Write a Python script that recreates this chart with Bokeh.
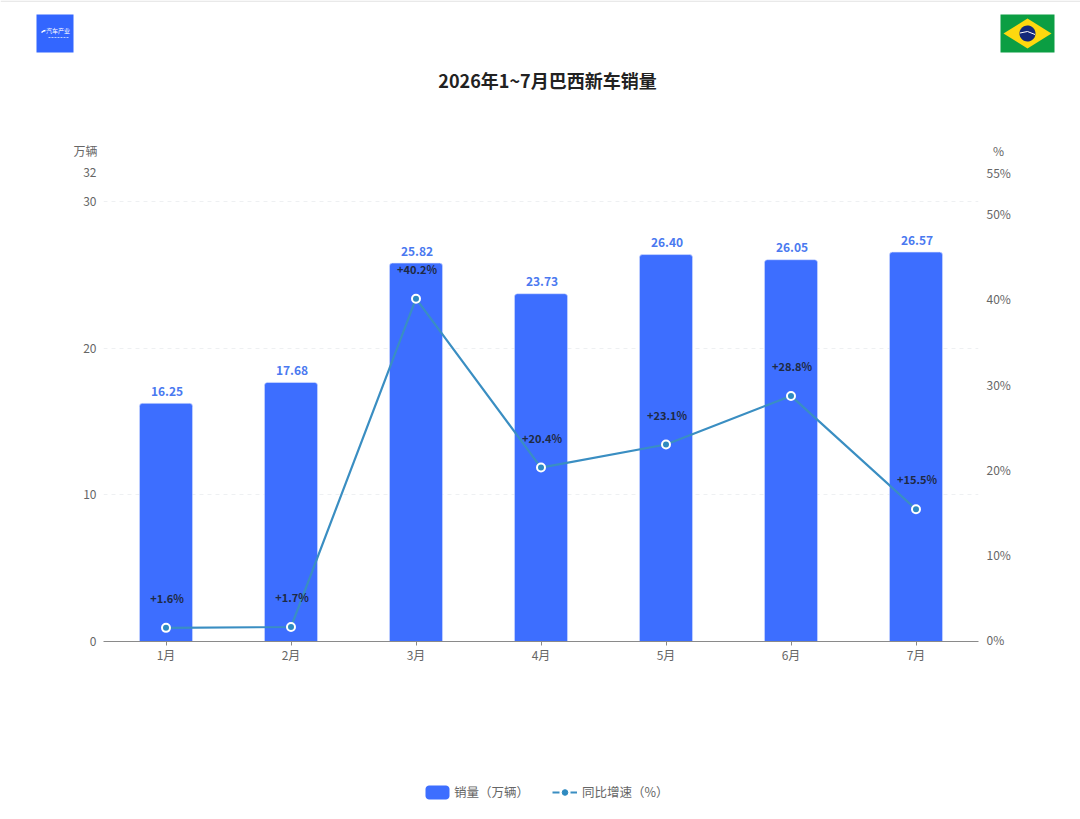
import numpy as np
from bokeh.plotting import figure
from bokeh.layouts import column, row
from bokeh.embed import file_html
from bokeh.resources import INLINE
from bokeh.core.properties import value
from bokeh.models import (ColumnDataSource, LinearAxis, Range1d, FactorRange, FixedTicker,
                          Legend, LegendItem)

months = ["1月", "2月", "3月", "4月", "5月", "6月", "7月"]
sales = [16.25, 17.68, 25.82, 23.73, 26.40, 26.05, 26.57]
growth = [1.6, 1.7, 40.2, 20.4, 23.1, 28.8, 15.5]
left_ticks = [0, 10, 20, 30, 32]
right_ticks = [0, 10, 20, 30, 40, 50, 55]
title = "2026年1~7月巴西新车销量"

FONT = "Noto Sans CJK SC"
BLUE = "#3d6eff"
LINE = "#3a8ec2"
GREY = "#666666"

W, H = 1080, 819
TOP_H = 160
MID_BOTTOM = 680


def blank(height, y0, y1):
    f = figure(width=W, height=height, x_range=Range1d(0, W), y_range=Range1d(y1, y0), output_backend="svg",
               toolbar_location=None, x_axis_location=None, y_axis_location=None, min_border=0)
    f.outline_line_color = None
    f.grid.visible = False
    return f


# header strip: logo, title, flag, axis units
top = blank(TOP_H, 0, TOP_H)


def poly(xs, ys, color):
    top.patch(x=list(xs), y=list(ys), fill_color=color, line_color=None)


def label(x, y, text, size, color, bold=False):
    top.text(x=[x], y=[y], text=[text], text_font=value(FONT), text_font_size=size, text_color=color,
             text_align="center", text_baseline="middle", text_font_style="bold" if bold else "normal")


poly([0, W, W, 0], [0, 0, 1.2, 1.2], "#e2e2e2")
poly([36, 73, 73, 36], [14, 14, 52, 52], "#3366ff")
top.line(x=[41, 43, 45], y=[32, 30.5, 30], line_color="white", line_width=1.5)
label(57.5, 30, "汽车产业", "6px", "white")
top.line(x=[48, 68], y=[37, 37], line_color="#b9ccff", line_width=1, line_dash="2 1")
poly([1000, 1054, 1054, 1000], [14, 14, 52, 52], "#0b9e43")
poly([1027, 1051, 1027, 1003], [18, 33, 48, 33], "#fdd80f")
ang = np.linspace(0, 2 * np.pi, 40)
poly(1027 + 8 * np.cos(ang), 33 + 8 * np.sin(ang), "#12297a")
top.line(x=[1019.5, 1027, 1034.5], y=[32.5, 31, 34], line_color="white", line_width=1)
label(547, 79, title, "18px", "#222222", bold=True)
label(85, 150, "万辆", "12px", GREY)
label(998, 150, "%", "12px", GREY)

# main chart
p = figure(width=W, height=MID_BOTTOM - TOP_H,
           x_range=FactorRange(factors=months, range_padding=0, factor_padding=0),
           y_range=Range1d(0, 32), output_backend="svg", toolbar_location=None,
           min_border_left=103, min_border_right=W - 978, min_border_top=172 - TOP_H,
           min_border_bottom=MID_BOTTOM - 641)
LABEL_SHIFT = 0.18  # nudges the right-hand tick labels up, level with the points
p.extra_y_ranges = {"pct": Range1d(0, 55), "pct_labels": Range1d(-LABEL_SHIFT, 55 - LABEL_SHIFT)}
p.outline_line_color = None
p.background_fill_color = "white"
p.xgrid.visible = False
p.ygrid.ticker = FixedTicker(ticks=left_ticks[1:])
p.ygrid.grid_line_color = "#eef0f2"
p.ygrid.grid_line_dash = "4 4"

src = ColumnDataSource(dict(
    m=months, s=sales, g=growth,
    sl=[f"{v:.2f}" for v in sales],
    gl=[f"+{v:.1f}%" for v in growth],
))

p.vbar(x="m", top="s", width=0.425, source=src, fill_color=BLUE, line_color="#dbe4ff",
       line_width=0.6, border_radius=(3, 3, 0, 0))
p.text(x="m", y="s", text="sl", source=src, text_font=value(FONT), text_font_size="12px",
       text_font_style="bold", text_color="#4a79f0", text_align="center", text_baseline="middle",
       x_offset=1, y_offset=-12)
p.line(x="m", y="g", source=src, y_range_name="pct", line_color=LINE, line_width=2.2)
p.scatter(x="m", y="g", source=src, y_range_name="pct", size=8, fill_color="#2f8ac0",
          line_color="white", line_width=2)
p.text(x="m", y="g", text="gl", source=src, y_range_name="pct", text_font=value(FONT), text_font_size="11px",
       text_font_style="bold", text_color="#1f2a44", text_align="center", text_baseline="middle",
       x_offset=1, y_offset=-30)

xa = p.xaxis[0]
xa.axis_line_color = "#8a8a8a"
xa.major_tick_line_color = "#8a8a8a"
xa.major_tick_in = 0
xa.major_tick_out = 4
xa.minor_tick_line_color = None
xa.major_label_text_font = FONT
xa.major_label_text_font_size = "12px"
xa.major_label_text_color = GREY
xa.major_label_standoff = 0

ya = p.yaxis[0]
ya.ticker = FixedTicker(ticks=left_ticks)
axis_ticks = [min(t, 55 - LABEL_SHIFT) for t in right_ticks]
ra = LinearAxis(y_range_name="pct_labels", ticker=FixedTicker(ticks=axis_ticks))
ra.major_label_overrides = {a: f"{t}%" for a, t in zip(axis_ticks, right_ticks)}
p.add_layout(ra, "right")
for a, s in ((ya, 7), (ra, 8)):
    a.axis_line_color = None
    a.major_tick_line_color = None
    a.major_tick_in = 0
    a.major_tick_out = 0
    a.minor_tick_line_color = None
    a.major_label_text_font = FONT
    a.major_label_text_font_size = "12px"
    a.major_label_text_color = GREY
    a.major_label_standoff = s

# footer strip: legend
foot = blank(H - MID_BOTTOM, MID_BOTTOM, H)
off = dict(x=[-100], y=[-100])
r_bar = foot.vbar(x="x", top="y", width=1, source=ColumnDataSource(off), fill_alpha=0, line_alpha=0)
r_line = foot.line(x="x", y="y", source=ColumnDataSource(off), line_color=LINE, line_width=2, line_dash="7 11")
r_pts = foot.scatter(x="x", y="y", source=ColumnDataSource(off), size=10, fill_color="#2f8ac0", line_color="#2f8ac0")
legend = Legend(items=[LegendItem(label="销量（万辆）", renderers=[r_bar]),
                       LegendItem(label="同比增速（%）", renderers=[r_line, r_pts])],
                orientation="horizontal", location=(420, 14), background_fill_alpha=0, border_line_alpha=0,
                label_text_font=FONT, label_text_font_size="12.5px", label_text_color=GREY,
                glyph_width=25, glyph_height=14, spacing=23, margin=0, padding=4)
foot.add_layout(legend, "center")
# rounded legend swatch
t = np.linspace(0, np.pi / 2, 6)
r = 3.5
sw_x = np.concatenate([428.5 - r * np.cos(t), 445.5 + r * np.sin(t), 445.5 + r * np.cos(t), 428.5 - r * np.sin(t)])
sw_y = np.concatenate([788.5 - r * np.sin(t), 788.5 - r * np.cos(t), 795.5 + r * np.sin(t), 795.5 + r * np.cos(t)])
foot.patch(x=list(sw_x), y=list(sw_y), fill_color=BLUE, line_color=None)

open("out.html", "w").write(file_html(column(row(top), row(p), row(foot), spacing=0), INLINE))
